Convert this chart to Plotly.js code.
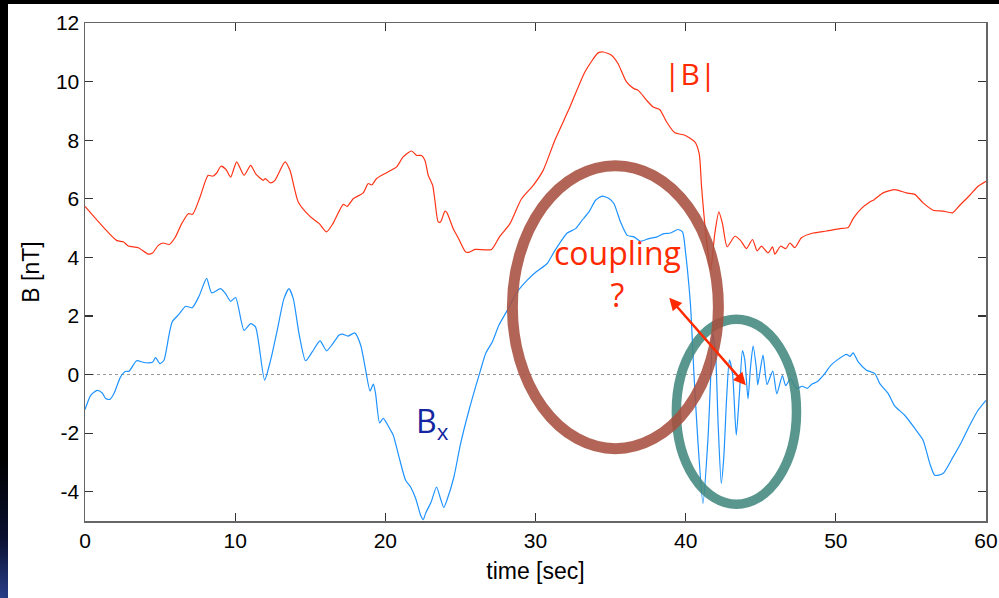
<!DOCTYPE html>
<html>
<head>
<meta charset="utf-8">
<script src="https://cdn.plot.ly/plotly-3.0.1.min.js"></script>
<style>
  html, body { margin: 0; padding: 0; width: 999px; height: 598px; overflow: hidden;
    background: radial-gradient(circle at 0px 598px, #2a3f8a 0px, #0a1030 60px, #000 140px); }
  #plot { position: absolute; left: 8px; top: 4px; width: 991px; height: 594px; background: #fff; }
</style>
</head>
<body>
<div id="plot"></div>
<script>
// |B| (red) time [sec] and values [nT]
const tB = [0, 2.1, 2.55, 2.88, 3.55, 4.21, 4.5, 4.88, 5.21, 5.61, 5.99, 6.44, 6.88, 7.17, 7.66, 8.2, 8.5, 8.77, 9.05, 9.39, 9.7, 10.1, 10.59, 11.03, 11.38, 11.87, 12.0, 12.36, 12.65, 13.32, 13.65, 14.2, 14.98, 15.6, 16.09, 16.53, 17.2, 17.46, 17.86, 18.53, 18.86, 19.1, 19.42, 20.08, 20.75, 21.19, 21.75, 22.08, 22.41, 22.64, 22.86, 23.15, 23.3, 23.52, 23.68, 23.97, 24.1, 24.52, 24.85, 25.36, 25.6, 25.97, 27.07, 27.6, 28.3, 29.07, 29.85, 30.51, 31.29, 32.29, 33.29, 34.17, 34.51, 35.06, 35.5, 36.06, 36.55, 36.84, 37.4, 37.84, 38.28, 38.73, 39.28, 39.95, 40.61, 40.9, 41.06, 41.34, 41.66, 41.94, 42.21, 42.45, 42.76, 43.28, 43.65, 44.05, 44.45, 44.76, 45.05, 45.49, 45.78, 45.94, 46.32, 46.67, 46.94, 47.27, 47.71, 48.49, 49.38, 50.27, 50.82, 51.15, 51.71, 52.26, 52.55, 53.15, 53.93, 54.7, 55.26, 55.81, 56.48, 57.14, 57.77, 58.26, 58.92, 59.47, 60];
const absB = [5.74, 4.58, 4.53, 4.39, 4.33, 4.11, 4.15, 4.41, 4.49, 4.44, 4.67, 5.15, 5.49, 5.47, 6.06, 6.8, 6.77, 6.88, 7.11, 7.0, 6.74, 7.26, 6.8, 7.14, 6.84, 6.63, 6.69, 6.54, 6.63, 7.26, 6.97, 5.89, 5.4, 5.15, 4.87, 5.17, 5.81, 5.74, 6.0, 6.2, 6.52, 6.47, 6.69, 6.89, 7.09, 7.43, 7.63, 7.48, 7.48, 7.31, 6.8, 6.46, 5.95, 5.21, 5.21, 5.58, 5.53, 4.98, 4.67, 4.18, 4.18, 4.27, 4.27, 4.7, 5.15, 6.0, 6.46, 6.97, 8.0, 9.13, 10.33, 10.98, 11.01, 10.9, 10.61, 9.99, 9.76, 9.7, 9.36, 9.13, 9.04, 8.62, 8.25, 8.17, 7.94, 7.54, 6.4, 4.81, 3.56, 4.81, 5.55, 5.15, 4.36, 4.72, 4.58, 4.3, 4.61, 4.22, 4.38, 4.15, 4.36, 4.11, 4.38, 4.3, 4.49, 4.33, 4.67, 4.83, 4.9, 4.98, 5.02, 5.32, 5.67, 5.89, 5.97, 6.2, 6.31, 6.2, 6.15, 5.86, 5.61, 5.58, 5.52, 5.78, 6.12, 6.43, 6.6];

// Bx (blue)
const tBx = [0, 0.38, 0.82, 1.15, 1.38, 1.66, 1.93, 2.37, 2.71, 2.93, 3.44, 3.93, 4.49, 4.7, 4.99, 5.26, 5.59, 5.81, 6.26, 6.7, 7.14, 7.59, 8.1, 8.43, 9.03, 9.36, 9.7, 10.03, 10.59, 11.03, 11.36, 11.96, 12.36, 12.8, 13.25, 13.58, 13.87, 14.25, 14.69, 15.13, 15.65, 16.09, 16.47, 16.91, 17.15, 17.51, 17.96, 18.36, 18.69, 18.98, 19.2, 19.35, 19.62, 19.86, 20.35, 20.53, 20.91, 21.35, 21.68, 22.02, 22.35, 22.53, 22.68, 23.05, 23.41, 23.67, 23.89, 24.1, 24.57, 25.01, 25.57, 26.01, 26.34, 26.68, 27.12, 27.56, 28.12, 28.78, 29.45, 30.03, 30.78, 31.23, 32.11, 32.67, 33.11, 33.56, 34.0, 34.44, 34.89, 35.22, 35.66, 36.11, 36.55, 37.0, 37.55, 38.1, 38.55, 38.99, 39.48, 39.79, 40.0, 40.1, 40.33, 40.55, 40.81, 41.15, 41.48, 41.66, 41.8, 41.99, 42.16, 42.37, 42.54, 42.72, 42.91, 43.12, 43.37, 43.58, 43.78, 43.94, 44.15, 44.31, 44.49, 44.71, 44.8, 45.15, 45.42, 45.8, 46.07, 46.44, 46.66, 46.98, 47.4, 47.75, 48.1, 48.4, 48.75, 49.18, 49.68, 50.1, 50.71, 50.95, 51.15, 51.49, 52.04, 52.6, 52.93, 53.49, 53.93, 54.59, 55.26, 55.81, 56.26, 56.59, 57.14, 57.81, 58.37, 58.92, 59.47, 60];
const Bx = [-1.2, -0.71, -0.54, -0.63, -0.82, -0.85, -0.65, -0.08, 0.11, 0.11, 0.47, 0.41, 0.42, 0.58, 0.37, 0.49, 1.34, 1.8, 2.06, 2.33, 2.28, 2.67, 3.28, 2.79, 2.93, 2.76, 2.5, 2.63, 1.51, 1.74, 1.62, -0.19, 0.49, 1.51, 2.59, 2.93, 2.59, 1.4, 0.47, 0.77, 1.15, 0.81, 1.03, 1.34, 1.38, 1.31, 1.42, 1.0, 0.15, -0.56, -0.33, -0.65, -1.65, -1.5, -1.9, -2.07, -2.81, -3.61, -3.84, -4.23, -4.8, -4.95, -4.74, -4.35, -3.84, -4.23, -4.54, -4.29, -3.49, -2.36, -1.22, -0.42, 0.15, 0.72, 1.11, 1.68, 2.19, 2.82, 3.22, 3.5, 3.79, 4.18, 4.83, 4.98, 5.27, 5.55, 5.95, 6.09, 6.01, 5.84, 5.21, 4.75, 4.7, 4.55, 4.64, 4.7, 4.81, 4.83, 4.95, 4.87, 4.13, 3.67, 2.31, 0.03, -2.24, -4.4, -2.24, -0.19, 1.4, 0.72, -1.67, -3.72, -2.81, -0.88, 0.5, 0.03, -2.07, -0.65, 0.82, 0.49, -0.83, 0.2, 0.97, 0.2, -0.35, 0.66, -0.34, 0.12, -0.66, -0.04, -0.38, -0.14, -0.48, -0.4, -0.47, -0.33, -0.25, -0.02, 0.32, 0.5, 0.69, 0.62, 0.74, 0.43, 0.15, 0.03, -0.31, -0.65, -1.08, -1.39, -1.84, -2.24, -3.04, -3.44, -3.38, -2.81, -2.3, -1.73, -1.22, -0.88];

const xTicks = [0, 10, 20, 30, 40, 50, 60];
const yTicks = [-4, -2, 0, 2, 4, 6, 8, 10, 12];

const tickFont = {family: 'Liberation Sans, Arial, sans-serif', size: 21, color: '#000'};
const titleFont = {family: 'Liberation Sans, Arial, sans-serif', size: 23, color: '#000'};
const noteFont = 'Open Sans, Noto Sans, sans-serif';

const traces = [
  {x: tB, y: absB, type: 'scatter', mode: 'lines',
   line: {color: '#ff3417', width: 1.2, shape: 'spline', smoothing: 0.6}, hoverinfo: 'skip'},
  {x: tBx, y: Bx, type: 'scatter', mode: 'lines',
   line: {color: '#1e93ff', width: 1.2, shape: 'spline', smoothing: 0.6}, hoverinfo: 'skip'}
];

const layout = {
  width: 991, height: 594,
  margin: {l: 77, r: 13, t: 19, b: 77},
  paper_bgcolor: '#fff', plot_bgcolor: '#fff',
  showlegend: false,
  xaxis: {
    range: [0, 60], tickvals: xTicks, ticktext: xTicks.map(String),
    ticks: 'inside', ticklen: 8, tickwidth: 1.2, tickcolor: '#333',
    showline: true, linecolor: '#666', linewidth: 1.5, mirror: 'ticks',
    showgrid: false, zeroline: false, tickfont: tickFont,
    title: {text: 'time [sec]', font: titleFont, standoff: 12}
  },
  yaxis: {
    range: [-5, 12], tickvals: yTicks, ticktext: yTicks.map(String),
    ticks: 'inside', ticklen: 8, tickwidth: 1.2, tickcolor: '#333',
    showline: true, linecolor: '#666', linewidth: 1.5, mirror: 'ticks',
    showgrid: false, zeroline: false, tickfont: tickFont,
    title: {text: 'B [nT]', font: titleFont, standoff: 10}
  },
  shapes: [
    {type: 'line', xref: 'x', yref: 'y', x0: 0, x1: 60, y0: 0, y1: 0, layer: 'below',
     line: {color: '#999', width: 1, dash: 'dot'}},
    {type: 'circle', xref: 'x', yref: 'y', x0: 39.38, x1: 47.38, y0: -4.43, y1: 1.89,
     layer: 'above', opacity: 0.88, line: {color: '#43897f', width: 9.5}},
    {type: 'circle', xref: 'x', yref: 'y', x0: 28.46, x1: 42.18, y0: -2.53, y1: 7.13,
     layer: 'above', opacity: 0.88, line: {color: '#a8503f', width: 11}}
  ],
  annotations: [
    {x: 44.01, y: -0.37, ax: 38.82, ay: 2.67, xref: 'x', yref: 'y', axref: 'x', ayref: 'y',
     text: '', showarrow: true, arrowside: 'end+start', arrowhead: 2, startarrowhead: 2,
     arrowsize: 1, startarrowsize: 1, arrowwidth: 2.5, arrowcolor: '#ff2a00', standoff: 0, startstandoff: 0},
    {x: 40.32, y: 10.28, xref: 'x', yref: 'y', text: '|B|', showarrow: false,
     font: {family: noteFont, size: 30, color: '#ff2a00'}},
    {x: 35.45, y: 3.46, xref: 'x', yref: 'y', text: 'coupling<br>?', showarrow: false,
     font: {family: noteFont, size: 32, color: '#ff2a00'}},
    {x: 23.17, y: -1.65, xref: 'x', yref: 'y', text: 'B<sub>x</sub>', showarrow: false,
     font: {family: noteFont, size: 32, color: '#1426a0'}}
  ]
};

Plotly.newPlot('plot', traces, layout, {staticPlot: true, displayModeBar: false});
</script>
</body>
</html>
